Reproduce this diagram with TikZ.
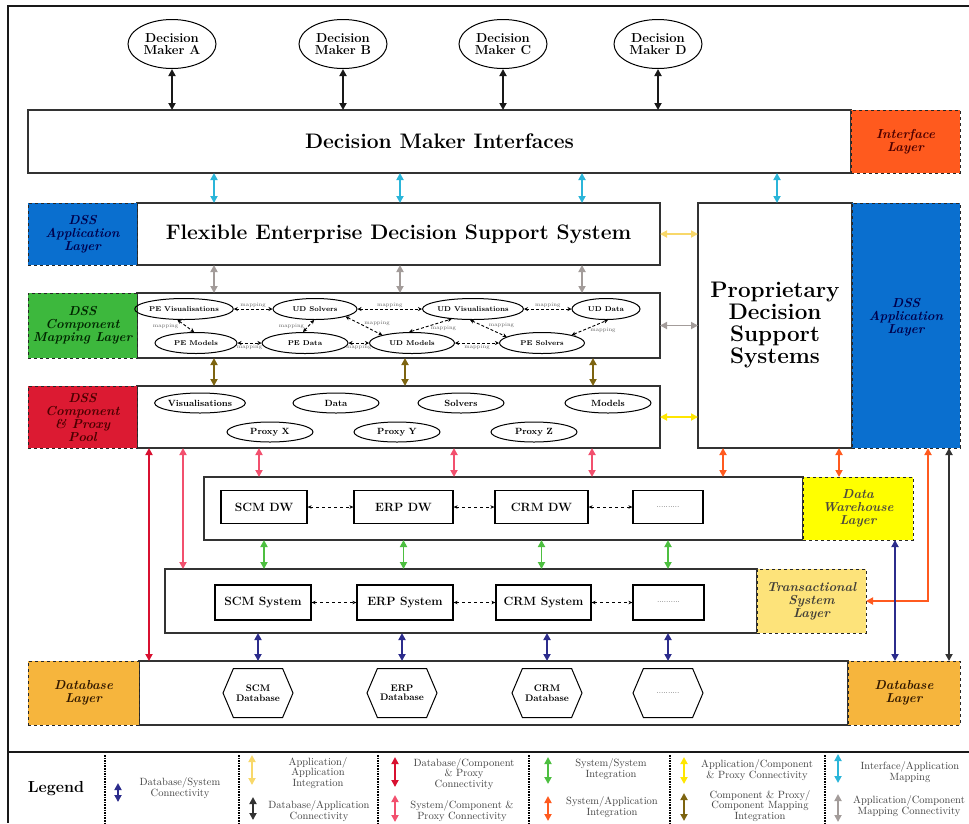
\documentclass[tikz,border=0pt]{standalone}
\usepackage{tikz}
\usetikzlibrary{arrows.meta,positioning,shapes.geometric,shapes.symbols}

\definecolor{ifcyan}{HTML}{2BB5D9}
\definecolor{mapgray}{HTML}{A39C9A}
\definecolor{mapolive}{HTML}{7D6410}
\definecolor{syspink}{HTML}{F2506E}
\definecolor{dbred}{HTML}{D81030}
\definecolor{apporange}{HTML}{FF5A1F}
\definecolor{sysgreen}{HTML}{4DBF40}
\definecolor{dbnavy}{HTML}{2C2C8C}
\definecolor{appyellow}{HTML}{F8D86A}
\definecolor{compyellow}{HTML}{FFE600}
\definecolor{dbblack}{HTML}{333333}
\definecolor{ifaceorange}{HTML}{FF5A1E}
\definecolor{dssblue}{HTML}{0A6FCF}
\definecolor{mapgreen}{HTML}{3DB83D}
\definecolor{poolred}{HTML}{DC1A32}
\definecolor{dwyellow}{HTML}{FFFF00}
\definecolor{tslyellow}{HTML}{FDE37A}
\definecolor{dblayer}{HTML}{F6B53D}

\newcommand{\dmifont}{\fontsize{21}{22}\selectfont\bfseries}
\newcommand{\fedsfont}{\fontsize{21}{22}\selectfont\bfseries}
\newcommand{\pdssfont}{\fontsize{22.5}{22}\selectfont\bfseries}
\newcommand{\layerfont}{\fontsize{13}{13}\selectfont\bfseries\itshape}
\newcommand{\legfont}{\fontsize{10.5}{10.5}\selectfont}

\tikzstyle{mainbox}=[rectangle,draw=black!80,line width=1.3pt,fill=white,outer sep=0pt,align=center]
\tikzstyle{layertag}=[rectangle,dashed,draw=black!85,line width=1pt,font=\layerfont,align=center,outer sep=0pt,inner sep=1pt]
\tikzstyle{maker}=[ellipse,draw,line width=1pt,font=\fontsize{13}{12.5}\selectfont\bfseries,align=center,minimum width=88pt,minimum height=49pt,inner sep=0pt]
\tikzstyle{comp}=[ellipse,draw,line width=1pt,font=\fontsize{9}{9}\selectfont\bfseries,minimum width=86pt,minimum height=20pt,inner sep=0pt]
\tikzstyle{mapnode}=[ellipse,draw,line width=1pt,font=\fontsize{7}{7}\selectfont\bfseries,minimum width=85pt,minimum height=21pt,inner sep=0pt]
\tikzstyle{dwbox}=[rectangle,draw,line width=1.2pt,font=\fontsize{12}{12}\selectfont\bfseries,minimum height=33pt,inner sep=1pt]
\tikzstyle{tsbox}=[rectangle,draw,line width=1.2pt,font=\fontsize{12}{12}\selectfont\bfseries,minimum height=35pt,inner sep=1pt]
\tikzstyle{dbase}=[signal,signal to=east and west,signal pointer angle=134,draw,line width=1pt,font=\fontsize{9.5}{9.5}\selectfont\bfseries,align=center,minimum width=70pt,minimum height=49pt,inner sep=0pt]
\tikzstyle{dots}=[font=\fontsize{7}{7}\selectfont]
\tikzstyle{conn}=[{Triangle[length=7pt,width=7pt]}-{Triangle[length=7pt,width=7pt]},line width=1.8pt]
\tikzstyle{keyconn}=[{Triangle[length=7pt,width=7pt]}-{Triangle[length=7pt,width=7pt]},line width=1.8pt]
\tikzstyle{maplink}=[densely dashed,{Stealth[length=4pt,width=4pt]}-{Stealth[length=4pt,width=4pt]},line width=0.9pt]
\tikzstyle{peer}=[dashed,{Stealth[length=4pt,width=3.5pt]}-{Stealth[length=4pt,width=3.5pt]},line width=0.7pt]
\tikzstyle{maplabel}=[font=\fontsize{5.5}{5.5}\selectfont,text=black!60,inner sep=1pt]
\tikzstyle{legtext}=[font=\legfont,text=black!75,align=center]
\tikzstyle{legsep}=[densely dotted,line width=1.6pt]

\begin{document}
\begin{tikzpicture}[x=1pt,y=-1pt]
\useasboundingbox (0,0) rectangle (969,823);

% FRAME
\draw[line width=2pt,black!90] (969,6) -- (8,6) -- (8,823);
\draw[line width=2pt,black!90] (8,752) -- (969,752);

% INTERFACE PART

\node[maker] (dmA) at (172,44) {Decision\\Maker A};
\node[maker] (dmB) at (343,44) {Decision\\Maker B};
\node[maker] (dmC) at (503,44) {Decision\\Maker C};
\node[maker] (dmD) at (658,44) {Decision\\Maker D};

\node[mainbox,minimum width=823pt,minimum height=63pt,font=\dmifont] (dmi) at (439.5,141.5) {Decision Maker Interfaces};
\node[layertag,fill=ifaceorange,text=black!50!red!60!black,minimum width=109pt,minimum height=63pt,right=0pt of dmi] (ifl) {Interface\\Layer};

\path[conn,black!90] (dmA) edge (dmA |- dmi.north);
\path[conn,black!90] (dmB) edge (dmB |- dmi.north);
\path[conn,black!90] (dmC) edge (dmC |- dmi.north);
\path[conn,black!90] (dmD) edge (dmD |- dmi.north);

% DSS APPLICATION PART

\node[mainbox,minimum width=523pt,minimum height=62pt,font=\fedsfont] (fedss) at (398.5,234) {Flexible Enterprise Decision Support System};
\node[layertag,fill=dssblue,text=blue!30!black,minimum width=109pt,minimum height=62pt,left=0pt of fedss] (fedl) {DSS\\Application\\Layer};

\node[mainbox,minimum width=154pt,minimum height=245pt,font=\pdssfont] (pdss) at (775,325.5) {Proprietary\\Decision\\Support\\Systems};
\node[layertag,fill=dssblue,minimum width=108pt,minimum height=245pt,right=0pt of pdss] (pdsl) {};
\node[font=\layerfont,text=blue!30!black,align=center] (pdslt) at ([yshift=8pt]pdsl.center) {DSS\\Application\\Layer};

\coordinate (ia1) at (214,0);
\coordinate (ia2) at (400,0);
\coordinate (ia3) at (582,0);
\coordinate (ia4) at (777,0);

\path[conn,ifcyan] (dmi.south -| ia1) edge (fedss.north -| ia1);
\path[conn,ifcyan] (dmi.south -| ia2) edge (fedss.north -| ia2);
\path[conn,ifcyan] (dmi.south -| ia3) edge (fedss.north -| ia3);
\path[conn,ifcyan] (dmi.south -| ia4) edge (pdss.north -| ia4);

% COMPONENT MAPPING PART

\node[mainbox,minimum width=523pt,minimum height=65pt] (cml) at (398.5,325.5) {};
\node[layertag,fill=mapgreen,text=green!15!black,minimum width=109pt,minimum height=65pt,left=0pt of cml] (cmll) {DSS\\Component\\Mapping Layer};

\node[mapnode] (pev) at (184,309) {PE Visualisations};
\node[mapnode,minimum width=84pt] (uds) at (315,309) {UD Solvers};
\node[mapnode,minimum width=100pt] (udv) at (473,309) {UD Visualisations};
\node[mapnode,minimum width=68pt] (udd) at (606,309) {UD Data};
\node[mapnode,minimum width=82pt] (pem) at (196,343) {PE Models};
\node[mapnode,minimum width=86pt] (ped) at (305,343) {PE Data};
\node[mapnode] (udm) at (412,343) {UD Models};
\node[mapnode] (pes) at (542,343) {PE Solvers};

\path[maplink] (pev) edge node[maplabel,above] {mapping} (uds);
\path[maplink] (uds) edge node[maplabel,above] {mapping} (udv);
\path[maplink] (udv) edge node[maplabel,above] {mapping} (udd);
\path[maplink] (pem) edge node[maplabel,below] {mapping} (ped);
\path[maplink] (ped) edge node[maplabel,below] {mapping} (udm);
\path[maplink] (udm) edge node[maplabel,below] {mapping} (pes);
\path[maplink] (pev.239) edge node[maplabel,left,xshift=-6pt] {mapping} (pem.100);
\path[maplink] (ped.100) edge node[maplabel,left,xshift=-3pt] {mapping} (uds.265);
\path[maplink] (uds.-14) edge node[maplabel,above right,inner sep=0pt] {mapping} (udm.165);
\path[maplink] (udm.105) edge node[maplabel,below right,inner sep=0pt] {mapping} (udv.205);
\path[maplink] (udv.255) edge node[maplabel,above right,inner sep=0pt] {mapping} (pes.170);
\path[maplink] (pes.15) edge node[maplabel,below right,inner sep=0pt] {mapping} (udd.280);

\path[conn,mapgray] (fedss.south -| ia1) edge (cml.north -| ia1);
\path[conn,mapgray] (fedss.south -| ia2) edge (cml.north -| ia2);
\path[conn,mapgray] (fedss.south -| ia3) edge (cml.north -| ia3);

% COMPONENT & PROXY POOL PART

\node[mainbox,minimum width=523pt,minimum height=62pt] (cpp) at (398.5,417) {};
\node[layertag,fill=poolred,text=red!30!black,minimum width=109pt,minimum height=62pt,left=0pt of cpp] (cppl) {DSS\\Component\\\& Proxy\\Pool};

\node[comp] (vis) at (200,403) {Visualisations};
\node[comp] (dat) at (336,403) {Data};
\node[comp] (sol) at (461,403) {Solvers};
\node[comp] (mod) at (608,403) {Models};
\node[comp] (prx) at (270,432) {Proxy X};
\node[comp] (pry) at (397,432) {Proxy Y};
\node[comp] (prz) at (534,432) {Proxy Z};

\coordinate (ca1) at (214,0);
\coordinate (ca2) at (405,0);
\coordinate (ca3) at (593,0);

\path[conn,mapolive] (cml.south -| ca1) edge (cpp.north -| ca1);
\path[conn,mapolive] (cml.south -| ca2) edge (cpp.north -| ca2);
\path[conn,mapolive] (cml.south -| ca3) edge (cpp.north -| ca3);

\path[conn,appyellow] (fedss.east) edge (fedss.east -| pdss.west);
\path[conn,mapgray] (cml.east) edge (cml.east -| pdss.west);
\path[conn,compyellow] (cpp.east) edge (cpp.east -| pdss.west);

% DATA WAREHOUSE PART

\node[mainbox,minimum width=599pt,minimum height=63pt] (dw) at (503.5,508.5) {};
\node[layertag,fill=dwyellow,text=yellow!20!black,minimum width=110pt,minimum height=63pt,right=0pt of dw] (dwl) {Data\\Warehouse\\Layer};

\node[dwbox,minimum width=86pt] (scmdw) at (264,507) {SCM DW};
\node[dwbox,minimum width=99pt] (erpdw) at (403.5,507) {ERP DW};
\node[dwbox,minimum width=93pt] (crmdw) at (541.5,507) {CRM DW};
\node[dwbox,minimum width=70pt,dots] (dotdw) at (668,507) {..........};

\path[peer] (scmdw) edge (erpdw);
\path[peer] (erpdw) edge (crmdw);
\path[peer] (crmdw) edge (dotdw);

% TRANSACTIONAL SYSTEM PART

\node[mainbox,minimum width=592pt,minimum height=64pt] (ts) at (461,601) {};
\node[layertag,fill=tslyellow,text=yellow!15!black,minimum width=109pt,minimum height=64pt,right=0pt of ts] (tsl) {Transactional\\System\\Layer};

\node[tsbox,minimum width=96pt] (scmts) at (263,602.5) {SCM System};
\node[tsbox,minimum width=96pt] (erpts) at (405,602.5) {ERP System};
\node[tsbox,minimum width=95pt] (crmts) at (543.5,602.5) {CRM System};
\node[tsbox,minimum width=71pt,dots] (dotts) at (668.5,602.5) {..........};

\path[peer] (scmts) edge (erpts);
\path[peer] (erpts) edge (crmts);
\path[peer] (crmts) edge (dotts);

% DATABASE PART

\node[mainbox,minimum width=709pt,minimum height=64pt] (db) at (493.5,693) {};
\node[layertag,fill=dblayer,text=orange!20!black,minimum width=111pt,minimum height=64pt,left=0pt of db] (dbl) {Database\\Layer};
\node[layertag,fill=dblayer,text=orange!20!black,minimum width=112pt,minimum height=64pt,right=0pt of db] (dbr) {Database\\Layer};

\node[dbase] (scmdb) at (258,693) {SCM\\Database};
\node[dbase] (erpdb) at (402,693) {ERP\\Database};
\node[dbase] (crmdb) at (547,693) {CRM\\Database};
\node[dbase,dots] (dotdb) at (668,693) {..........};

% CONNECTIONS OF LAYERS

\coordinate (pa1) at (259,0);
\coordinate (pa2) at (454,0);
\coordinate (pa3) at (592,0);
\coordinate (ra) at (149,0);
\coordinate (pb) at (183,0);
\coordinate (oa1) at (723,0);
\coordinate (oa2) at (839,0);
\coordinate (oe) at (928,0);
\coordinate (ka) at (949,0);
\coordinate (na) at (895,0);

\path[conn,syspink] (cpp.south -| pa1) edge (dw.north -| pa1);
\path[conn,syspink] (cpp.south -| pa2) edge (dw.north -| pa2);
\path[conn,syspink] (cpp.south -| pa3) edge (dw.north -| pa3);
\path[conn,dbred] (cpp.south -| ra) edge (db.north -| ra);
\path[conn,syspink] (cpp.south -| pb) edge (ts.north -| pb);

\path[conn,apporange] (pdss.south -| oa1) edge (dw.north -| oa1);
\path[conn,apporange] (pdss.south -| oa2) edge (dwl.north -| oa2);
\draw[conn,apporange] (pdsl.south -| oe) |- (tsl.east);
\path[conn,dbblack] (pdsl.south -| ka) edge (dbr.north -| ka);
\path[conn,dbnavy] (dwl.south -| na) edge (dbr.north -| na);

\path[conn,sysgreen] (dw.south -| scmdw) edge (ts.north -| scmdw);
\path[conn,sysgreen] (dw.south -| erpdw) edge (ts.north -| erpdw);
\path[conn,sysgreen] (dw.south -| crmdw) edge (ts.north -| crmdw);
\path[conn,sysgreen] (dw.south -| dotdw) edge (ts.north -| dotdw);

\path[conn,dbnavy] (ts.south -| scmdb) edge (db.north -| scmdb);
\path[conn,dbnavy] (ts.south -| erpdb) edge (db.north -| erpdb);
\path[conn,dbnavy] (ts.south -| crmdb) edge (db.north -| crmdb);
\path[conn,dbnavy] (ts.south -| dotdb) edge (db.north -| dotdb);

% LEGEND PART

\node[font=\fontsize{16}{16}\selectfont\bfseries] (legend) at (56,789) {Legend};

\draw[legsep] (105,755) -- (105,823);
\draw[legsep] (239,755) -- (239,823);
\draw[legsep] (378,755) -- (378,823);
\draw[legsep] (529,755) -- (529,823);
\draw[legsep] (670,755) -- (670,823);
\draw[legsep] (825,755) -- (825,823);

\coordinate (k1t) at (118,783); \coordinate (k1b) at (118,802);
\coordinate (k2t) at (252,755); \coordinate (k2b) at (252,785);
\coordinate (k3t) at (253,797); \coordinate (k3b) at (253,820);
\coordinate (k4t) at (395,757); \coordinate (k4b) at (395,787);
\coordinate (k5t) at (395,795); \coordinate (k5b) at (395,822);
\coordinate (k6t) at (548,757); \coordinate (k6b) at (548,784);
\coordinate (k7t) at (548,796); \coordinate (k7b) at (548,821);
\coordinate (k8t) at (684,757); \coordinate (k8b) at (684,784);
\coordinate (k9t) at (684,793); \coordinate (k9b) at (684,821);
\coordinate (k10t) at (838,754); \coordinate (k10b) at (838,783);
\coordinate (k11t) at (838,794); \coordinate (k11b) at (838,822);

\draw[keyconn,dbnavy] (k1t) -- (k1b);
\draw[keyconn,appyellow] (k2t) -- (k2b);
\draw[keyconn,dbblack] (k3t) -- (k3b);
\draw[keyconn,dbred] (k4t) -- (k4b);
\draw[keyconn,syspink] (k5t) -- (k5b);
\draw[keyconn,sysgreen] (k6t) -- (k6b);
\draw[keyconn,apporange] (k7t) -- (k7b);
\draw[keyconn,compyellow] (k8t) -- (k8b);
\draw[keyconn,mapolive] (k9t) -- (k9b);
\draw[keyconn,ifcyan] (k10t) -- (k10b);
\draw[keyconn,mapgray] (k11t) -- (k11b);

\node[legtext] (l1) at (180,788) {Database/System\\Connectivity};
\node[legtext] (l2) at (318,773) {Application/\\Application\\Integration};
\node[legtext] (l3) at (319,811) {Database/Application\\Connectivity};
\node[legtext] (l4) at (464,774) {Database/Component\\\& Proxy\\Connectivity};
\node[legtext] (l5) at (462,811) {System/Component \&\\Proxy Connectivity};
\node[legtext] (l6) at (611,769) {System/System\\Integration};
\node[legtext] (l7) at (612,807) {System/Application\\Integration};
\node[legtext] (l8) at (757,770) {Application/Component\\\& Proxy Connectivity};
\node[legtext] (l9) at (760,806) {Component \& Proxy/\\Component Mapping\\Integration};
\node[legtext] (l10) at (910,772) {Interface/Application\\Mapping};
\node[legtext] (l11) at (909,806) {Application/Component\\Mapping Connectivity};

\end{tikzpicture}
\end{document}
